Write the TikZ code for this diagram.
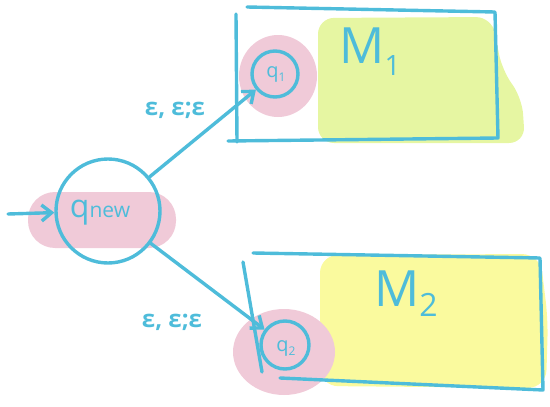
\documentclass[tikz,border=0pt]{standalone}
\usepackage{fontspec}
\setmainfont{Open Sans}
\usetikzlibrary{arrows.meta}
\definecolor{ink}{RGB}{78,188,218}
\definecolor{blush}{RGB}{240,202,216}
\definecolor{lime}{RGB}{230,246,162}
\definecolor{lemon}{RGB}{250,250,158}
\tikzset{
  pen/.style={draw=ink, line width=3.4pt, line cap=round, line join=round},
  arr/.style={pen, -{Straight Barb[length=10pt,width=16pt,line width=3.4pt]}},
  state/.style={circle, pen, inner sep=0pt},
  lab/.style={text=ink, inner sep=0pt, font=\fontsize{24}{24}\selectfont\bfseries},
  big/.style={text=ink, inner sep=0pt, font=\fontsize{50}{50}\selectfont},
}
\begin{document}
\begin{tikzpicture}[x=1pt,y=-1pt]
\useasboundingbox (0,0) rectangle (550,407);
% highlight fills
\fill[lime, rounded corners=16pt] (318,18) -- (492,17) -- (502,70) -- (522,98) -- (525,143) -- (318,143) -- cycle;
\fill[lemon, rounded corners=18pt] (320,255) -- (540,254) -- (548,320) -- (546,388) -- (320,386) -- cycle;
\fill[blush, rounded corners=27pt] (28,192) rectangle (176,248);
\fill[blush] (278,76) ellipse [x radius=39, y radius=41];
\fill[blush] (284,352) ellipse [x radius=51, y radius=43];
% boxes
\draw[pen] (247,7) -- (495,12) -- (498,138) -- (228,141);
\draw[pen] (236,14) -- (237,142);
\draw[pen] (253,253) -- (540,258) -- (543,390) -- (280,378);
\draw[pen] (243,262) -- (262,372);
% states
\node[state, minimum size=104pt] (qnew) at (108,211) {};
\node[state, minimum size=46pt] (q1) at (275,74) {};
\node[state, minimum size=48pt] (q2) at (285,345) {};
\node[text=ink, inner sep=0pt] (tqnew) at (100,213) {\fontsize{32}{32}\selectfont q\fontsize{21}{21}\selectfont new};
\node[text=ink, inner sep=0pt] (tq1) at (276,74) {\fontsize{20}{20}\selectfont q\raisebox{-4pt}{\fontsize{12}{12}\selectfont 1}};
\node[text=ink, inner sep=0pt] (tq2) at (286,348) {\fontsize{20}{20}\selectfont q\raisebox{-4pt}{\fontsize{12}{12}\selectfont 2}};
\node[big] (m1) at (370,52) {M\raisebox{-12pt}{\fontsize{28}{28}\selectfont 1}};
\node[big] (m2) at (406,294) {M\raisebox{-10pt}{\fontsize{32}{32}\selectfont 2}};
% start arrow
\coordinate (start) at (8,214);
\draw[arr] (start) -- (qnew);
% transitions
\draw[arr] (qnew) -- (q1);
\draw[arr] (qnew) -- (q2);
\node[lab] (l1) at (175,110) {ε, ε;ε};
\node[lab] (l2) at (172,322) {ε, ε;ε};
\end{tikzpicture}
\end{document}
